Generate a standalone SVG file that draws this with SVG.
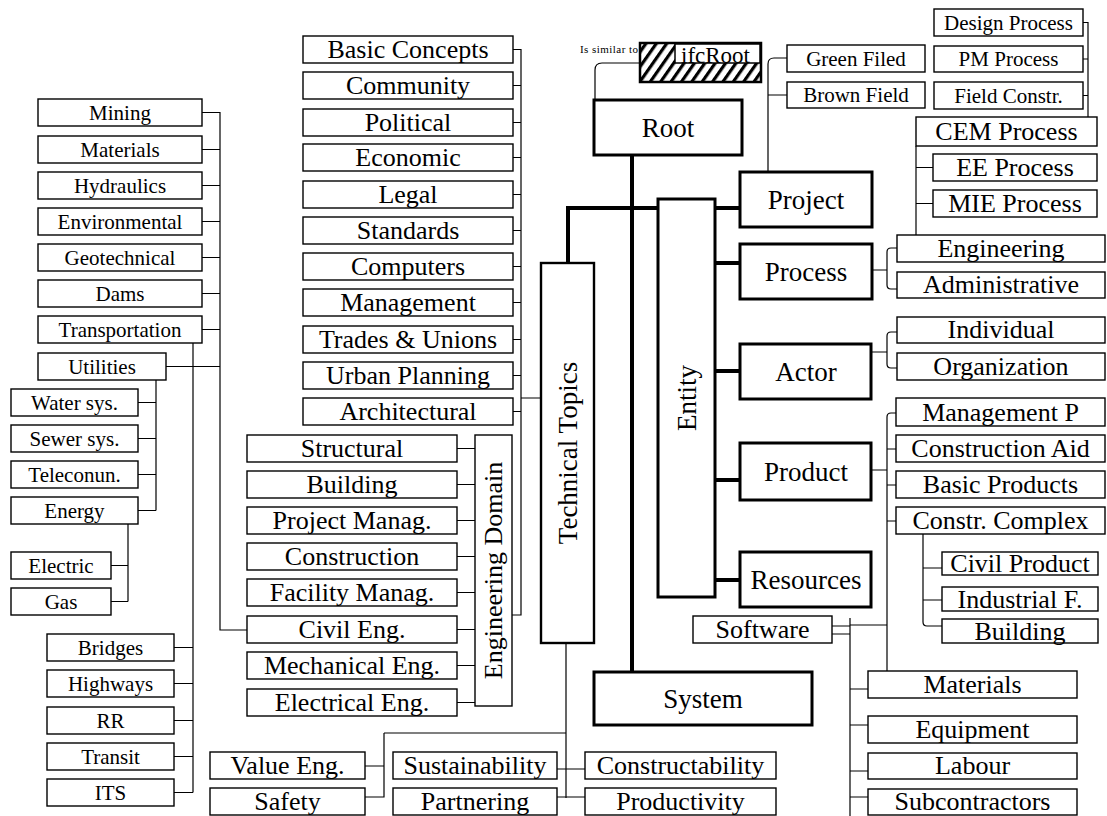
<svg xmlns="http://www.w3.org/2000/svg" width="1107" height="816" viewBox="0 0 1107 816">
  <style>
    .b { fill: #fff; stroke: #000; stroke-width: 1.4; }
    .B { fill: #fff; stroke: #000; stroke-width: 3; }
    .m { fill: #fff; stroke: #000; stroke-width: 2.4; }
    .t { font-family: "Liberation Serif", "Times New Roman", serif; text-anchor: middle; fill: #000; }
    .s21 { font-size: 21px; }
    .s26 { font-size: 26px; }
    .s27 { font-size: 27px; }
    .c { fill: none; stroke: #000; stroke-width: 1.2; }
    .C { fill: none; stroke: #000; stroke-width: 4; }
  </style>
  <defs>
    <pattern id="hatch" patternUnits="userSpaceOnUse" width="8.5" height="8.5" patternTransform="rotate(35)">
      <rect x="0" y="0" width="8.5" height="8.5" fill="#fff"/>
      <rect x="0" y="0" width="3.2" height="8.5" fill="#000"/>
    </pattern>
    <clipPath id="ifcClip">
      <rect x="675" y="44" width="85" height="19"/>
    </clipPath>
  </defs>
  <rect width="1107" height="816" fill="#fff"/>

  <!-- connectors -->
  <g id="connectors">
    <!-- left column: discipline tree -->
    <path class="c" d="M202,112.5 H220 V630 H247 M202,149.5 H220 M202,185.5 H220 M202,221.5 H220 M202,257.5 H220 M202,293.5 H220 M202,329.5 H220 M166,366.5 H220"/>
    <path class="c" d="M156,380 V510.5 M138,402.5 H156 M138,438.5 H156 M138,474.5 H156 M138,510.5 H156"/>
    <path class="c" d="M128,524 V601.5 M111,565.5 H128 M111,601.5 H128"/>
    <path class="c" d="M193,343 V792.5 M174,647.5 H193 M174,683.5 H193 M174,720.5 H193 M174,756.5 H193 M174,792.5 H193"/>
    <!-- middle column: topics -->
    <path class="c" d="M513,49.5 H521 V615 H512 M513,85.5 H521 M513,122.5 H521 M513,157.5 H521 M513,194.5 H521 M513,230.5 H521 M513,266.5 H521 M513,302.5 H521 M513,339.5 H521 M513,375.5 H521 M513,411.5 H521 M521,398 H541"/>
    <path class="c" d="M457,448.5 H475 M457,484.5 H475 M457,520.5 H475 M457,556.5 H475 M457,592.5 H475 M457,629.5 H475 M457,665.5 H475 M457,702.5 H475"/>
    <!-- bottom row -->
    <path class="c" d="M566,643 V798 M384,733 H566 M384,733 V797 H365 M365,766 H384 M557,769 H585 M557,797 H585"/>
    <!-- trunk -->
    <path class="C" d="M632,155 V672"/>
    <path class="C" d="M568,263 V208 H658"/>
    <path class="C" d="M715,208 H740 M715,263 H740 M715,371 H740 M715,480 H740 M715,580 H740"/>
    <!-- root to ifcRoot -->
    <path class="c" d="M595,100 V70 Q595,63 602,63 H640"/>
    <!-- project branch -->
    <path class="c" d="M768,172 V64 Q768,58 774,58 H787 M768,95 H787"/>
    <path class="c" d="M1083,22.5 H1088 V117 M1083,59 H1088 M1083,95.5 H1088"/>
    <path class="c" d="M916,146 V235 M916,167.5 H933 M916,203.5 H933"/>
    <!-- process and actor brackets -->
    <path class="c" d="M872,270 H887 M897,248 H891 Q887,248 887,252 V285 Q887,289 891,289 H897"/>
    <path class="c" d="M871,352 H887 M897,332 H891 Q887,332 887,336 V364 Q887,368 891,368 H897"/>
    <!-- product branch -->
    <path class="c" d="M872,470 H887 M896,413 H891 Q887,413 887,417 V671 M887,449 H896 M887,485 H896 M887,521 H896"/>
    <path class="c" d="M923,534 V622 Q923,626 927,626 H942 M923,568 H942 M923,600 H942"/>
    <!-- resource types -->
    <path class="c" d="M832,626 H850 M832,634 H850 M850,618 V816 M850,625 H887 M850,689 H868 M850,725 H868 M850,771 H868 M850,797 H868"/>
  </g>

  <!-- ifcRoot reference -->
  <g id="n-ifcroot">
    <text x="580" y="53" font-family="Liberation Serif, serif" font-size="11" textLength="58">Is similar to</text>
    <rect x="640" y="43" width="121" height="39" fill="url(#hatch)" stroke="#000" stroke-width="2.5"/>
    <rect x="675" y="44" width="85" height="19" fill="#fff" stroke="#000" stroke-width="1.5"/>
    <text x="681" y="63" font-family="Liberation Serif, serif" font-size="23" clip-path="url(#ifcClip)">ifcRoot</text>
  </g>

  <!-- core nodes -->
  <g id="n-root"><rect class="B" x="594" y="100" width="148" height="55"/><text class="t s27" x="668" y="136.5">Root</text></g>
  <g id="n-project"><rect class="B" x="740" y="172" width="132" height="55"/><text class="t s27" x="806" y="208.5">Project</text></g>
  <g id="n-process"><rect class="B" x="740" y="244" width="132" height="55"/><text class="t s27" x="806" y="280.5">Process</text></g>
  <g id="n-actor"><rect class="B" x="740" y="344" width="131" height="55"/><text class="t s27" x="806" y="380.5">Actor</text></g>
  <g id="n-product"><rect class="B" x="740" y="443" width="131" height="57"/><text class="t s27" x="806" y="480.5">Product</text></g>
  <g id="n-resources"><rect class="B" x="740" y="552" width="131" height="55"/><text class="t s27" x="806" y="588.5">Resources</text></g>
  <g id="n-system"><rect class="B" x="594" y="672" width="218" height="53"/><text class="t s27" x="703" y="707.5">System</text></g>
  <g id="n-entity"><rect class="B" x="658" y="199" width="57" height="398"/><text class="t s27" transform="translate(695.5,398) rotate(-90)">Entity</text></g>
  <g id="n-technical-topics"><rect class="m" x="541" y="263" width="53" height="380"/><text class="t s27" transform="translate(576.5,453) rotate(-90)">Technical Topics</text></g>
  <g id="n-engineering-domain"><rect class="b" x="475" y="435" width="37" height="271"/><text class="t s26" transform="translate(502,570.5) rotate(-90)">Engineering Domain</text></g>

  <!-- left column -->
  <g id="n-mining"><rect class="b" x="38" y="99" width="164" height="27"/><text class="t s21" x="120" y="119.5">Mining</text></g>
  <g id="n-materials-eng"><rect class="b" x="38" y="136" width="164" height="27"/><text class="t s21" x="120" y="156.5">Materials</text></g>
  <g id="n-hydraulics"><rect class="b" x="38" y="172" width="164" height="27"/><text class="t s21" x="120" y="192.5">Hydraulics</text></g>
  <g id="n-environmental"><rect class="b" x="38" y="208" width="164" height="27"/><text class="t s21" x="120" y="228.5">Environmental</text></g>
  <g id="n-geotechnical"><rect class="b" x="38" y="244" width="164" height="27"/><text class="t s21" x="120" y="264.5">Geotechnical</text></g>
  <g id="n-dams"><rect class="b" x="38" y="280" width="164" height="27"/><text class="t s21" x="120" y="300.5">Dams</text></g>
  <g id="n-transportation"><rect class="b" x="38" y="316" width="164" height="27"/><text class="t s21" x="120" y="336.5">Transportation</text></g>
  <g id="n-utilities"><rect class="b" x="38" y="353" width="128" height="27"/><text class="t s21" x="102" y="373.5">Utilities</text></g>
  <g id="n-water"><rect class="b" x="11" y="389" width="127" height="27"/><text class="t s21" x="74.5" y="409.5">Water sys.</text></g>
  <g id="n-sewer"><rect class="b" x="11" y="425" width="127" height="27"/><text class="t s21" x="74.5" y="445.5">Sewer sys.</text></g>
  <g id="n-telecom"><rect class="b" x="11" y="461" width="127" height="27"/><text class="t s21" x="74.5" y="481.5">Teleconun.</text></g>
  <g id="n-energy"><rect class="b" x="11" y="497" width="127" height="27"/><text class="t s21" x="74.5" y="517.5">Energy</text></g>
  <g id="n-electric"><rect class="b" x="11" y="552" width="100" height="27"/><text class="t s21" x="61" y="572.5">Electric</text></g>
  <g id="n-gas"><rect class="b" x="11" y="588" width="100" height="27"/><text class="t s21" x="61" y="608.5">Gas</text></g>
  <g id="n-bridges"><rect class="b" x="47" y="634" width="127" height="27"/><text class="t s21" x="110.5" y="654.5">Bridges</text></g>
  <g id="n-highways"><rect class="b" x="47" y="670" width="127" height="27"/><text class="t s21" x="110.5" y="690.5">Highways</text></g>
  <g id="n-rr"><rect class="b" x="47" y="707" width="127" height="27"/><text class="t s21" x="110.5" y="727.5">RR</text></g>
  <g id="n-transit"><rect class="b" x="47" y="743" width="127" height="27"/><text class="t s21" x="110.5" y="763.5">Transit</text></g>
  <g id="n-its"><rect class="b" x="47" y="779" width="127" height="27"/><text class="t s21" x="110.5" y="799.5">ITS</text></g>

  <!-- topics column -->
  <g id="n-basic-concepts"><rect class="b" x="303" y="36" width="210" height="27"/><text class="t s26" x="408" y="58">Basic Concepts</text></g>
  <g id="n-community"><rect class="b" x="303" y="72" width="210" height="27"/><text class="t s26" x="408" y="94">Community</text></g>
  <g id="n-political"><rect class="b" x="303" y="109" width="210" height="27"/><text class="t s26" x="408" y="131">Political</text></g>
  <g id="n-economic"><rect class="b" x="303" y="144" width="210" height="27"/><text class="t s26" x="408" y="166">Economic</text></g>
  <g id="n-legal"><rect class="b" x="303" y="181" width="210" height="27"/><text class="t s26" x="408" y="203">Legal</text></g>
  <g id="n-standards"><rect class="b" x="303" y="217" width="210" height="27"/><text class="t s26" x="408" y="239">Standards</text></g>
  <g id="n-computers"><rect class="b" x="303" y="253" width="210" height="27"/><text class="t s26" x="408" y="275">Computers</text></g>
  <g id="n-management"><rect class="b" x="303" y="289" width="210" height="27"/><text class="t s26" x="408" y="311">Management</text></g>
  <g id="n-trades"><rect class="b" x="303" y="326" width="210" height="27"/><text class="t s26" x="408" y="348">Trades &amp; Unions</text></g>
  <g id="n-urban"><rect class="b" x="303" y="362" width="210" height="27"/><text class="t s26" x="408" y="384">Urban Planning</text></g>
  <g id="n-architectural"><rect class="b" x="303" y="398" width="210" height="27"/><text class="t s26" x="408" y="420">Architectural</text></g>

  <!-- engineering domain column -->
  <g id="n-structural"><rect class="b" x="247" y="435" width="210" height="27"/><text class="t s26" x="352" y="457">Structural</text></g>
  <g id="n-building-eng"><rect class="b" x="247" y="471" width="210" height="27"/><text class="t s26" x="352" y="493">Building</text></g>
  <g id="n-project-manag"><rect class="b" x="247" y="507" width="210" height="27"/><text class="t s26" x="352" y="529">Project Manag.</text></g>
  <g id="n-construction"><rect class="b" x="247" y="543" width="210" height="27"/><text class="t s26" x="352" y="565">Construction</text></g>
  <g id="n-facility"><rect class="b" x="247" y="579" width="210" height="27"/><text class="t s26" x="352" y="601">Facility Manag.</text></g>
  <g id="n-civil"><rect class="b" x="247" y="616" width="210" height="27"/><text class="t s26" x="352" y="638">Civil Eng.</text></g>
  <g id="n-mechanical"><rect class="b" x="247" y="652" width="210" height="27"/><text class="t s26" x="352" y="674">Mechanical Eng.</text></g>
  <g id="n-electrical"><rect class="b" x="247" y="689" width="210" height="27"/><text class="t s26" x="352" y="711">Electrical Eng.</text></g>

  <!-- bottom row -->
  <g id="n-value-eng"><rect class="b" x="210" y="752" width="155" height="27"/><text class="t s26" x="287.5" y="774">Value Eng.</text></g>
  <g id="n-safety"><rect class="b" x="210" y="788" width="155" height="27"/><text class="t s26" x="287.5" y="810">Safety</text></g>
  <g id="n-sustainability"><rect class="b" x="393" y="752" width="164" height="27"/><text class="t s26" x="475" y="774">Sustainability</text></g>
  <g id="n-partnering"><rect class="b" x="393" y="788" width="164" height="27"/><text class="t s26" x="475" y="810">Partnering</text></g>
  <g id="n-constructability"><rect class="b" x="585" y="752" width="191" height="27"/><text class="t s26" x="680.5" y="774">Constructability</text></g>
  <g id="n-productivity"><rect class="b" x="585" y="788" width="191" height="27"/><text class="t s26" x="680.5" y="810">Productivity</text></g>

  <!-- project children -->
  <g id="n-green-field"><rect class="b" x="787" y="45" width="138" height="27"/><text class="t s21" x="856" y="65.5">Green Filed</text></g>
  <g id="n-brown-field"><rect class="b" x="787" y="82" width="138" height="26"/><text class="t s21" x="856" y="102">Brown Field</text></g>
  <g id="n-design-process"><rect class="b" x="934" y="9" width="149" height="27"/><text class="t s21" x="1008.5" y="29.5">Design Process</text></g>
  <g id="n-pm-process"><rect class="b" x="934" y="46" width="149" height="26"/><text class="t s21" x="1008.5" y="66">PM Process</text></g>
  <g id="n-field-constr"><rect class="b" x="934" y="82" width="149" height="27"/><text class="t s21" x="1008.5" y="102.5">Field Constr.</text></g>
  <g id="n-cem-process"><rect class="b" x="916" y="117" width="181" height="29"/><text class="t s26" x="1006.5" y="140">CEM Process</text></g>
  <g id="n-ee-process"><rect class="b" x="933" y="154" width="164" height="27"/><text class="t s26" x="1015" y="176">EE Process</text></g>
  <g id="n-mie-process"><rect class="b" x="933" y="190" width="164" height="27"/><text class="t s26" x="1015" y="212">MIE Process</text></g>
  <g id="n-engineering"><rect class="b" x="897" y="235" width="208" height="27"/><text class="t s26" x="1001" y="257">Engineering</text></g>
  <g id="n-administrative"><rect class="b" x="897" y="272" width="208" height="26"/><text class="t s26" x="1001" y="293">Administrative</text></g>
  <g id="n-individual"><rect class="b" x="897" y="317" width="208" height="26"/><text class="t s26" x="1001" y="338">Individual</text></g>
  <g id="n-organization"><rect class="b" x="897" y="353" width="208" height="27"/><text class="t s26" x="1001" y="375">Organization</text></g>

  <!-- product children -->
  <g id="n-management-p"><rect class="b" x="896" y="398" width="209" height="28"/><text class="t s26" x="1000.5" y="420.5">Management P</text></g>
  <g id="n-construction-aid"><rect class="b" x="896" y="435" width="209" height="27"/><text class="t s26" x="1000.5" y="457">Construction Aid</text></g>
  <g id="n-basic-products"><rect class="b" x="896" y="471" width="209" height="27"/><text class="t s26" x="1000.5" y="493">Basic Products</text></g>
  <g id="n-constr-complex"><rect class="b" x="896" y="507" width="209" height="27"/><text class="t s26" x="1000.5" y="529">Constr. Complex</text></g>
  <g id="n-civil-product"><rect class="b" x="942" y="552" width="156" height="23"/><text class="t s26" x="1020" y="572">Civil Product</text></g>
  <g id="n-industrial"><rect class="b" x="942" y="587" width="156" height="24"/><text class="t s26" x="1020" y="607.5">Industrial F.</text></g>
  <g id="n-building-prod"><rect class="b" x="942" y="619" width="156" height="24"/><text class="t s26" x="1020" y="639.5">Building</text></g>

  <!-- resource types -->
  <g id="n-software"><rect class="b" x="693" y="616" width="139" height="27"/><text class="t s26" x="762.5" y="638">Software</text></g>
  <g id="n-materials-res"><rect class="b" x="868" y="671" width="209" height="27"/><text class="t s26" x="972.5" y="693">Materials</text></g>
  <g id="n-equipment"><rect class="b" x="868" y="716" width="209" height="27"/><text class="t s26" x="972.5" y="738">Equipment</text></g>
  <g id="n-labour"><rect class="b" x="868" y="753" width="209" height="26"/><text class="t s26" x="972.5" y="774">Labour</text></g>
  <g id="n-subcontractors"><rect class="b" x="868" y="789" width="209" height="26"/><text class="t s26" x="972.5" y="810">Subcontractors</text></g>
</svg>
